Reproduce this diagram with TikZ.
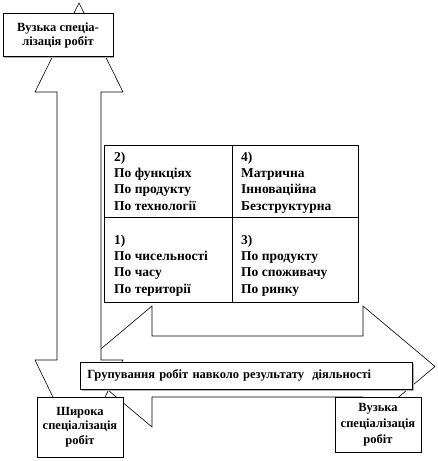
\documentclass[tikz,border=0pt]{standalone}
\usepackage{fontspec}
\setmainfont{Liberation Serif}
\usetikzlibrary{shadows}
\begin{document}
\begin{tikzpicture}[x=1pt,y=-1pt,
  shp/.style={draw=black,fill=white,line width=0.6pt,line join=miter},
  lbl/.style={font=\bfseries\fontsize{13.5}{16.2}\selectfont,inner sep=0pt,align=left,anchor=north west},
  tbox/.style={draw=black,fill=white,line width=0.6pt,inner sep=0pt,align=center,
    font=\bfseries\fontsize{12.5}{14}\selectfont,
    drop shadow={shadow xshift=1.2pt,shadow yshift=-1.2pt,fill=gray!60,opacity=1}}]
\useasboundingbox (0,0) rectangle (437,461);
% horizontal double arrow
\draw[shp] (80,366.5) -- (152,306) -- (152,336) -- (363,336) -- (363,306) -- (435,366.5)
  -- (363,427) -- (363,397) -- (152,397) -- (152,427) -- cycle;
% vertical double arrow
\draw[shp] (79,3) -- (123,92) -- (101,92) -- (101,360) -- (123,360) -- (79,451)
  -- (35,360) -- (57,360) -- (57,92) -- (35,92) -- cycle;
% table
\draw[shp] (104,145) rectangle (358,302);
\draw[line width=0.6pt] (232,145) -- (232,302);
\draw[line width=0.6pt] (104,217) -- (358,217);
\node[lbl] (c2) at (114,152) {2)\\По функціях\\По продукту\\По технології};
\node[lbl] (c4) at (241,152) {4)\\Матрична\\Інноваційна\\Безструктурна};
\node[lbl] (c1) at (114,235) {1)\\По чисельності\\По часу\\По території};
\node[lbl] (c3) at (241,235) {3)\\По продукту\\По споживачу\\По ринку};
% banner
\node[tbox,minimum width=332pt,minimum height=27pt,anchor=north west,align=left,text width=318pt] (ban) at (80,362)
  {Групування робіт навколо результату \ діяльності};
% boxes
\node[tbox,minimum width=110pt,minimum height=43pt] (tl) at (58,35) {Вузька спеціа-\\лізація робіт};
\node[tbox,minimum width=86pt,minimum height=60pt,font=\bfseries\fontsize{12.5}{14.5}\selectfont] (bl) at (80,427) {Широка\\спеціалізація\\робіт};
\node[tbox,minimum width=86pt,minimum height=55pt,font=\bfseries\fontsize{12.5}{16}\selectfont] (br) at (378,424.5) {Вузька\\спеціалізація\\робіт};
\end{tikzpicture}
\end{document}
